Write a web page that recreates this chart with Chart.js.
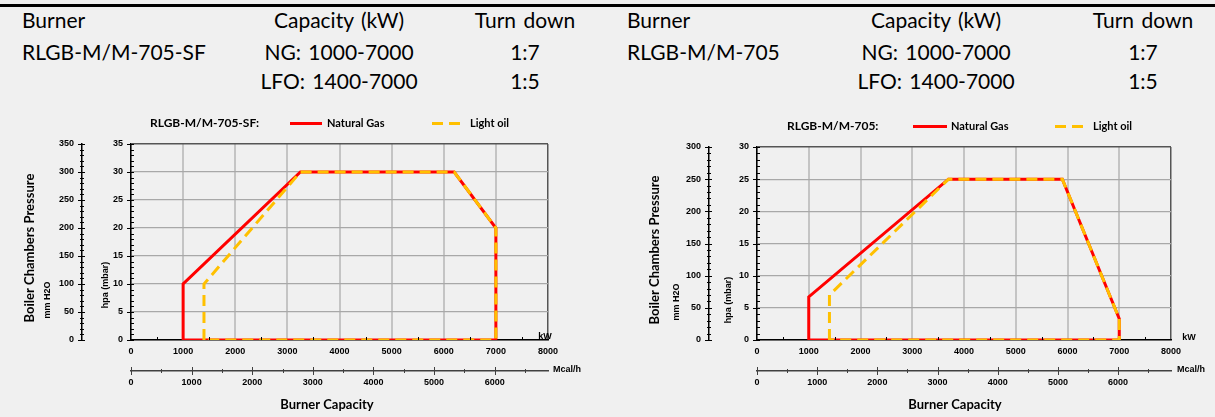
<!DOCTYPE html>
<html>
<head>
<meta charset="utf-8">
<script src="https://cdn.jsdelivr.net/npm/chart.js@4.4.0/dist/chart.umd.min.js"></script>
<style>
  body { margin: 0; background: #f0f0f0; width: 1215px; height: 417px; overflow: hidden; position: relative; font-family: Lato, sans-serif; }
  .rule { position: absolute; left: 0; top: 4px; width: 1215px; height: 3px; background: #000; }
  .cell { position: absolute; font-size: 21px; line-height: 24px; word-spacing: 2px; color: #000; white-space: nowrap; }
  .mid { transform: translateX(-50%); }
  canvas { position: absolute; }
</style>
</head>
<body>
<div class="rule"></div>
<div id="header"></div>
<canvas id="chartSF" width="600" height="309" style="left:0;top:108px"></canvas>
<canvas id="chartStd" width="610" height="309" style="left:605px;top:108px"></canvas>
<script>
// header table
const headerCols = ['Burner', 'Capacity (kW)', 'Turn down'];
const sfRows = [['RLGB-M/M-705-SF', 'NG: 1000-7000', '1:7'], ['', 'LFO: 1400-7000', '1:5']];
const stdRows = [['RLGB-M/M-705', 'NG: 1000-7000', '1:7'], ['', 'LFO: 1400-7000', '1:5']];

// chart data (kW vs hPa)
const seriesNames = ['Natural Gas', 'Light oil'];
const sfGasKw = [1000, 1000, 3250, 6200, 7000, 7000, 1000];
const sfGasHpa = [0, 10, 30, 30, 20, 0, 0];
const sfOilKw = [1400, 1400, 3250, 6200, 7000, 7000, 1400];
const sfOilHpa = [0, 10, 30, 30, 20, 0, 0];
const stdGasKw = [1000, 1000, 3700, 5900, 7000, 7000, 1000];
const stdGasHpa = [0, 6.7, 25, 25, 3.3, 0, 0];
const stdOilKw = [1400, 1400, 3700, 5900, 7000, 7000, 1400];
const stdOilHpa = [0, 7, 25, 25, 3.3, 0, 0];

// secondary axis ticks
const mcalTicks = [0, 1000, 2000, 3000, 4000, 5000, 6000];
const KW_PER_MCAL = 1.163;

// build header
const header = document.getElementById('header');
const addCell = (text, x, y, centered) => {
    const d = document.createElement('div');
    d.className = 'cell' + (centered ? ' mid' : '');
    d.style.left = x + 'px';
    d.style.top = (y - 12) + 'px';
    d.textContent = text;
    header.appendChild(d);
};
const buildTable = (rows, colX) => {
    const rowY = [20, 52, 81];
    headerCols.forEach((t, i) => addCell(t, colX[i], rowY[0], i > 0));
    rows.forEach((r, j) => r.forEach((t, i) => { if (t) addCell(t, colX[i], rowY[j + 1], i > 0); }));
};
buildTable(sfRows, [22, 339, 525]);
buildTable(stdRows, [627, 936, 1143]);

const toPoints = (xs, ys) => xs.map((x, i) => ({ x, y: ys[i] }));
const tickFont = { family: 'Liberation Sans', size: 9, weight: 'bold' };
const plain = v => String(v);

// tick marks, legend row and axis captions
const decorations = {
    id: 'decorations',
    afterDraw(chart, args, opts) {
        const ctx = chart.ctx;
        const s = chart.scales;
        ctx.save();
        ctx.strokeStyle = '#000';
        ctx.lineWidth = 1;
        const vTicks = (sc, minor, major, inner) => {
            const x = Math.round(sc.right);
            for (let v = sc.min; v <= sc.max + 1e-6; v += minor) {
                const py = Math.round(sc.getPixelForValue(v)) + 0.5;
                const isMajor = Math.abs(v / major - Math.round(v / major)) < 1e-6;
                ctx.beginPath();
                if (isMajor) { ctx.moveTo(x - 4, py); ctx.lineTo(x + 3, py); }
                else if (inner) { ctx.moveTo(x, py); ctx.lineTo(x + 3, py); }
                else { ctx.moveTo(x - 2, py); ctx.lineTo(x + 2, py); }
                ctx.stroke();
            }
        };
        vTicks(s.y, 1, 5, true);
        vTicks(s.y2, 10, 50, false);
        // kW axis minor ticks
        let y0 = Math.round(s.x.top);
        for (let v = 500; v < 8000; v += 1000) {
            const px = Math.round(s.x.getPixelForValue(v)) + 0.5;
            ctx.beginPath(); ctx.moveTo(px, y0 - 3); ctx.lineTo(px, y0); ctx.stroke();
        }
        // Mcal/h axis ticks
        y0 = Math.round(s.x2.top);
        ctx.strokeStyle = '#404040';
        for (let v = 0; v <= s.x2.max; v += 500) {
            const px = Math.round(s.x2.getPixelForValue(v)) + 0.5;
            const len = v % 1000 === 0 ? 4 : 2;
            ctx.beginPath(); ctx.moveTo(px, y0 - len); ctx.lineTo(px, y0 + len); ctx.stroke();
        }
        // legend row
        const lg = opts.legend;
        ctx.fillStyle = '#000';
        ctx.textBaseline = 'middle';
        ctx.textAlign = 'left';
        ctx.font = 'bold 12px Lato';
        ctx.fillText(lg.title, lg.titleX, lg.y);
        ctx.font = 'bold 11px Lato';
        chart.data.datasets.forEach((ds, i) => {
            const it = lg.items[i];
            ctx.save();
            ctx.strokeStyle = ds.borderColor;
            ctx.lineWidth = 3;
            ctx.setLineDash(ds.borderDash || []);
            ctx.beginPath();
            ctx.moveTo(it.x0, lg.y + 0.5);
            ctx.lineTo(it.x1, lg.y + 0.5);
            ctx.stroke();
            ctx.restore();
            ctx.fillText(ds.label, it.tx, lg.y);
        });
        // captions
        opts.captions.forEach(c => {
            ctx.save();
            ctx.font = c.font;
            ctx.translate(c.x, c.y);
            if (c.rot) ctx.rotate(-Math.PI / 2);
            ctx.textAlign = c.align || 'center';
            ctx.fillText(c.text, 0, 0);
            ctx.restore();
        });
        ctx.restore();
    }
};

const makeChart = (id, cfg) => {
    const gridX = {
        drawTicks: false,
        color: c => c.tick.value === 8000 ? '#555' : '#c4c4c4',
        lineWidth: c => c.tick.value === 8000 ? 1.5 : 2
    };
    const gridY = {
        drawTicks: false,
        color: c => c.tick.value === cfg.yMax ? '#555' : '#a8a8a8',
        lineWidth: c => c.tick.value === cfg.yMax ? 1.5 : 1.2
    };
    new Chart(document.getElementById(id), {
        type: 'scatter',
        data: {
            datasets: [
                {
                    label: seriesNames[0],
                    data: toPoints(cfg.gasKw, cfg.gasHpa),
                    borderColor: '#ff0000',
                    borderWidth: 3,
                    showLine: true,
                    pointRadius: 0,
                    order: 2
                },
                {
                    label: seriesNames[1],
                    data: toPoints(cfg.oilKw, cfg.oilHpa),
                    borderColor: '#ffc000',
                    borderWidth: 3,
                    borderDash: [11, 6],
                    showLine: true,
                    pointRadius: 0,
                    order: 1
                }
            ]
        },
        options: {
            responsive: false,
            animation: false,
            layout: { padding: { left: 0, top: cfg.top, right: cfg.right, bottom: 0 } },
            plugins: {
                legend: { display: false },
                tooltip: { enabled: false },
                decorations: { legend: cfg.legend, captions: cfg.captions }
            },
            scales: {
                x: {
                    type: 'linear', position: 'bottom', min: 0, max: 8000, weight: 0,
                    ticks: { stepSize: 1000, font: tickFont, color: '#000', padding: 6, maxRotation: 0, callback: plain },
                    grid: gridX,
                    border: { color: '#000', width: 1.5 },
                    afterFit: s => { s.height = 31; }
                },
                x2: {
                    type: 'linear', position: 'bottom', min: 0, max: 8000 / KW_PER_MCAL, weight: 1,
                    ticks: { font: tickFont, color: '#000', padding: 6, maxRotation: 0, callback: plain },
                    afterBuildTicks: s => { s.ticks = mcalTicks.map(value => ({ value })); },
                    grid: { drawOnChartArea: false, drawTicks: false },
                    border: { color: '#404040', width: 1.5 },
                    afterFit: s => { s.height = 46; }
                },
                y: {
                    position: 'left', min: 0, max: cfg.yMax, weight: 0,
                    ticks: { stepSize: 5, font: tickFont, color: '#000', padding: 8, callback: plain },
                    grid: gridY,
                    border: { color: '#000', width: 1.5 },
                    afterFit: s => { s.width = cfg.innerW; }
                },
                y2: {
                    position: 'left', min: 0, max: cfg.yMax * 10, weight: 1,
                    ticks: { stepSize: 50, font: tickFont, color: '#000', padding: 8, callback: plain },
                    grid: { drawOnChartArea: false, drawTicks: false },
                    border: { color: '#000', width: 1.5 },
                    afterFit: s => { s.width = cfg.outerW; }
                }
            }
        },
        plugins: [decorations]
    });
};

const titleFont = 'bold 13px Lato';
const unitFont = 'bold 9px "Liberation Sans"';

makeChart('chartSF', {
    gasKw: sfGasKw, gasHpa: sfGasHpa, oilKw: sfOilKw, oilHpa: sfOilHpa,
    yMax: 35, top: 36, right: 52, outerW: 82, innerW: 49,
    legend: { title: 'RLGB-M/M-705-SF:', titleX: 150, y: 15, items: [{ x0: 290, x1: 322, tx: 327 }, { x0: 432, x1: 460, tx: 470 }] },
    captions: [
        { text: 'Boiler Chambers Pressure', x: 30, y: 140, rot: true, font: titleFont },
        { text: 'mm H2O', x: 48, y: 192, rot: true, font: unitFont },
        { text: 'hpa (mbar)', x: 106, y: 177, rot: true, font: unitFont },
        { text: 'kW', x: 545, y: 229, font: unitFont },
        { text: 'Mcal/h', x: 567, y: 262, font: unitFont },
        { text: 'Burner Capacity', x: 327, y: 297, font: titleFont }
    ]
});

makeChart('chartStd', {
    gasKw: stdGasKw, gasHpa: stdGasHpa, oilKw: stdOilKw, oilHpa: stdOilHpa,
    yMax: 30, top: 39, right: 44, outerW: 104, innerW: 48,
    legend: { title: 'RLGB-M/M-705:', titleX: 182, y: 18, items: [{ x0: 308, x1: 342, tx: 346 }, { x0: 450, x1: 480, tx: 488 }] },
    captions: [
        { text: 'Boiler Chambers Pressure', x: 50, y: 142, rot: true, font: titleFont },
        { text: 'mm H2O', x: 72, y: 194, rot: true, font: unitFont },
        { text: 'hpa (mbar)', x: 124, y: 192, rot: true, font: unitFont },
        { text: 'kW', x: 584, y: 230, font: unitFont },
        { text: 'Mcal/h', x: 586, y: 262, font: unitFont },
        { text: 'Burner Capacity', x: 350, y: 297, font: titleFont }
    ]
});
</script>
</body>
</html>
